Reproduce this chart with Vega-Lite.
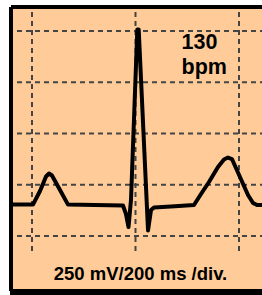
{
  "$schema": "https://vega.github.io/schema/vega-lite/v6.json",
  "width": 249,
  "height": 280,
  "autosize": {"type": "none"},
  "padding": {"left": 13, "top": 9, "right": 0, "bottom": 6},
  "background": "white",
  "config": {"view": {"fill": "#ffcc99", "stroke": null}},
  "datasets": {
    "ecg": [
      {"t": 163.3, "v": 153.2}, {"t": 201.9, "v": 153.2}, {"t": 215.5, "v": 219.5},
      {"t": 227.1, "v": 290.2}, {"t": 232.9, "v": 304.9}, {"t": 238.6, "v": 295.1},
      {"t": 254.1, "v": 224.4}, {"t": 269.6, "v": 153.2}, {"t": 321.7, "v": 151.2},
      {"t": 375.8, "v": 148.8}, {"t": 381.6, "v": 107.3}, {"t": 386.5, "v": 43.9},
      {"t": 391.3, "v": 175.6}, {"t": 403.5, "v": 1007.3}, {"t": 406.2, "v": 1007.3},
      {"t": 424.2, "v": 26.8}, {"t": 430.0, "v": 126.8}, {"t": 435.7, "v": 139.0},
      {"t": 476.3, "v": 144.9}, {"t": 513.0, "v": 151.2}, {"t": 526.6, "v": 204.9},
      {"t": 542.0, "v": 263.4}, {"t": 559.4, "v": 336.6}, {"t": 571.0, "v": 373.2},
      {"t": 578.7, "v": 382.9}, {"t": 586.4, "v": 375.6}, {"t": 601.9, "v": 287.8},
      {"t": 617.4, "v": 200.0}, {"t": 627.1, "v": 161.0}, {"t": 634.8, "v": 151.2},
      {"t": 644.5, "v": 151.2}
    ],
    "vgrid": [{"t": 200}, {"t": 400}, {"t": 600}],
    "hgrid": [{"v": 0}, {"v": 250}, {"v": 500}, {"v": 750}, {"v": 1000}],
    "bpm": [
      {"t": 488.9, "v": 909.8, "label": "130"},
      {"t": 488.9, "v": 790.2, "label": "bpm"}
    ],
    "scaleLabel": [
      {"t": 409.7, "v": -214.6, "label": "250 mV/200 ms /div."}
    ]
  },
  "layer": [
    {
      "data": {"name": "hgrid"},
      "mark": {"type": "rule", "stroke": "#444444", "strokeWidth": 2, "strokeDash": [5, 4]},
      "encoding": {
        "y": {
          "field": "v", "type": "quantitative",
          "scale": {"domain": [-258.5, 1107.3], "nice": false, "zero": false},
          "axis": {"orient": "left", "offset": 2, "translate": 0, "domain": true, "domainColor": "black", "domainWidth": 4, "domainCap": "square", "ticks": false, "labels": false, "grid": false, "title": null, "zindex": 2}
        },
        "x": {
          "datum": 171, "type": "quantitative",
          "scale": {"domain": [163.29, 644.45], "nice": false, "zero": false},
          "axis": null
        },
        "x2": {"datum": 644.45}
      }
    },
    {
      "data": {"name": "vgrid"},
      "mark": {"type": "rule", "stroke": "#444444", "strokeWidth": 2, "strokeDash": [5, 4]},
      "encoding": {
        "x": {
          "field": "t", "type": "quantitative",
          "axis": {"orient": "top", "offset": 2, "translate": 0, "domain": true, "domainColor": "black", "domainWidth": 4, "domainCap": "square", "ticks": false, "labels": false, "grid": false, "title": null, "zindex": 2}
        },
        "y": {"datum": -73, "type": "quantitative", "axis": null},
        "y2": {"datum": 1107.3}
      }
    },
    {
      "data": {"name": "ecg"},
      "mark": {"type": "line", "stroke": "black", "strokeWidth": 4, "strokeJoin": "round"},
      "encoding": {
        "x": {
          "field": "t", "type": "quantitative",
          "axis": {"orient": "bottom", "offset": 3, "translate": 0, "domain": true, "domainColor": "black", "domainWidth": 6, "domainCap": "square", "ticks": false, "labels": false, "grid": false, "title": null, "zindex": 2}
        },
        "y": {"field": "v", "type": "quantitative", "axis": null}
      }
    },
    {
      "data": {"name": "bpm"},
      "mark": {"type": "text", "font": "Liberation Sans", "fontWeight": "bold", "fontSize": 21.5, "align": "left", "baseline": "alphabetic", "color": "black"},
      "encoding": {
        "x": {"field": "t", "type": "quantitative", "axis": null},
        "y": {"field": "v", "type": "quantitative", "axis": null},
        "text": {"field": "label", "type": "nominal"}
      }
    },
    {
      "data": {"name": "scaleLabel"},
      "mark": {"type": "text", "font": "Liberation Sans", "fontWeight": "bold", "fontSize": 18.5, "align": "center", "baseline": "alphabetic", "color": "black"},
      "encoding": {
        "x": {"field": "t", "type": "quantitative", "axis": null},
        "y": {"field": "v", "type": "quantitative", "axis": null},
        "text": {"field": "label", "type": "nominal"}
      }
    }
  ],
  "resolve": {"axis": {"x": "independent", "y": "independent"}}
}
